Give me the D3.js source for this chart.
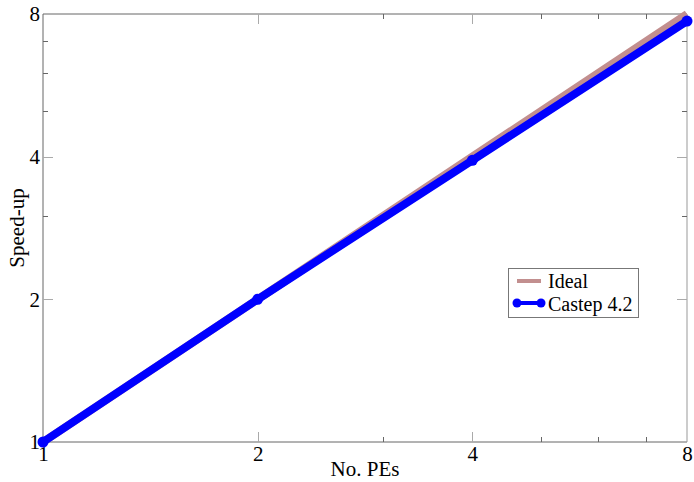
<!DOCTYPE html>
<html>
<head>
<meta charset="utf-8">
<script src="https://cdn.jsdelivr.net/npm/d3@7"></script>
<style>
  html, body { margin: 0; padding: 0; background: #fff; }
  svg text { font-family: "Liberation Serif", "DejaVu Serif", serif; fill: #000; }
</style>
</head>
<body>
<svg id="chart" width="694" height="482"></svg>
<script>
// Processor counts and measured speed-ups
const pes = [1, 2, 4, 8];
const idealSpeedup = [1, 2, 4, 8];
const castepSpeedup = [1, 2, 3.93, 7.73];
const majorTicks = [1, 2, 4, 8];
const minorTicks = [3, 5, 6, 7];
const seriesNames = ["Ideal", "Castep 4.2"];

const W = 694, H = 482;
const margin = { left: 43, top: 14, right: 7, bottom: 40 };
const x0 = margin.left, x1 = W - margin.right;
const y0 = H - margin.bottom, y1 = margin.top;
const FS = 21;

const svg = d3.select("#chart");

const x = d3.scaleLog().base(2).domain([1, 8]).range([x0, x1]);
const y = d3.scaleLog().base(2).domain([1, 8]).range([y0, y1]);

// Frame
const frame = svg.append("g");
frame.append("line").attr("x1", x0).attr("x2", x1).attr("y1", y1).attr("y2", y1).attr("stroke", "#666");
frame.append("line").attr("x1", x0).attr("x2", x1).attr("y1", y0).attr("y2", y0).attr("stroke", "#666");
frame.append("line").attr("x1", x0).attr("x2", x0).attr("y1", y1).attr("y2", y0).attr("stroke", "#666");
frame.append("line").attr("x1", x1).attr("x2", x1).attr("y1", y1).attr("y2", y0).attr("stroke", "#999");

// Inward ticks on all four sides
const ticks = svg.append("g").attr("shape-rendering", "crispEdges");
function drawTicks(vals, len, color) {
  vals.forEach(v => {
    const xv = Math.round(x(v)) + 0.5, yv = Math.round(y(v)) + 0.5;
    ticks.append("line").attr("x1", xv).attr("x2", xv).attr("y1", y0).attr("y2", y0 - len).attr("stroke", color);
    ticks.append("line").attr("x1", xv).attr("x2", xv).attr("y1", y1).attr("y2", y1 + len).attr("stroke", color);
    ticks.append("line").attr("x1", x0).attr("x2", x0 + len).attr("y1", yv).attr("y2", yv).attr("stroke", color);
    ticks.append("line").attr("x1", x1).attr("x2", x1 - len).attr("y1", yv).attr("y2", yv).attr("stroke", color);
  });
}
drawTicks(majorTicks.slice(1, -1), 10, "#aaa");
drawTicks(minorTicks, 5, "#666");

// Tick labels
const xAxisG = svg.append("g").attr("transform", `translate(0,${y0})`)
  .call(d3.axisBottom(x).tickValues(majorTicks).tickFormat(d3.format("d")).tickSize(0).tickPadding(4));
xAxisG.select(".domain").remove();
xAxisG.selectAll("text").attr("font-size", FS).attr("font-family", "Liberation Serif").attr("dy", "0.72em");

const yAxisG = svg.append("g").attr("transform", `translate(${x0},0)`)
  .call(d3.axisLeft(y).tickValues(majorTicks).tickFormat(d3.format("d")).tickSize(0).tickPadding(3));
yAxisG.select(".domain").remove();
yAxisG.selectAll("text").attr("font-size", FS).attr("font-family", "Liberation Serif");

// Axis titles
svg.append("text").attr("x", (x0 + x1) / 2).attr("y", 476).attr("text-anchor", "middle")
  .attr("font-size", FS).text("No. PEs");
svg.append("text").attr("transform", `translate(24,${(y0 + y1) / 2}) rotate(-90)`)
  .attr("text-anchor", "middle").attr("font-size", FS).text("Speed-up");

// Series
const line = d3.line().x(d => x(d[0])).y(d => y(d[1]));
const plot = svg.append("g");
plot.append("path").datum(pes.map((p, i) => [p, idealSpeedup[i]]))
  .attr("d", line).attr("fill", "none").attr("stroke", "#c28f8f").attr("stroke-width", 8);
const castepPts = pes.map((p, i) => [p, castepSpeedup[i]]);
plot.append("path").datum(castepPts)
  .attr("d", line).attr("fill", "none").attr("stroke", "#0000ff").attr("stroke-width", 8);
plot.selectAll("circle.pt").data(castepPts).enter().append("circle")
  .attr("class", "pt").attr("cx", d => x(d[0])).attr("cy", d => y(d[1])).attr("r", 5.5).attr("fill", "#0000ff");

// Legend
const LFS = 20;
const lg = svg.append("g").attr("transform", "translate(508,268)");
lg.append("rect").attr("x", 0.5).attr("y", 0.5).attr("width", 130).attr("height", 49)
  .attr("fill", "#fff").attr("stroke", "#777");
lg.append("line").attr("x1", 9).attr("x2", 33).attr("y1", 13).attr("y2", 13)
  .attr("stroke", "#c28f8f").attr("stroke-width", 4);
lg.append("text").attr("x", 40).attr("y", 20).attr("font-size", LFS).text(seriesNames[0]);
lg.append("line").attr("x1", 9).attr("x2", 33).attr("y1", 35).attr("y2", 35)
  .attr("stroke", "#0000ff").attr("stroke-width", 4);
lg.append("circle").attr("cx", 9).attr("cy", 35).attr("r", 4.5).attr("fill", "#0000ff");
lg.append("circle").attr("cx", 33).attr("cy", 35).attr("r", 4.5).attr("fill", "#0000ff");
lg.append("text").attr("x", 40).attr("y", 43).attr("font-size", LFS).text(seriesNames[1]);
</script>
</body>
</html>
